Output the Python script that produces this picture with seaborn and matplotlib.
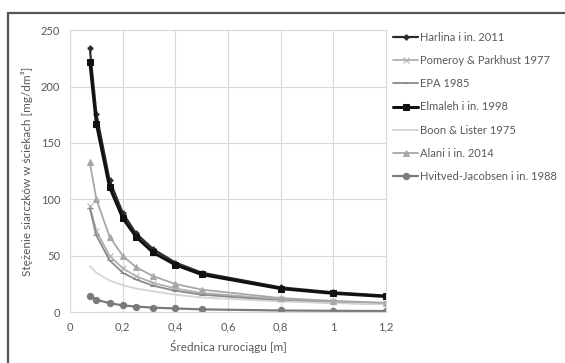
import matplotlib
matplotlib.use("Agg")
import matplotlib.pyplot as plt
import numpy as np
import pandas as pd
import seaborn as sns
from matplotlib.lines import Line2D
from matplotlib.ticker import FuncFormatter

# średnice rurociągu [m]
diameters = [0.075, 0.1, 0.15, 0.2, 0.25, 0.315, 0.4, 0.5, 0.8, 1.0, 1.2]

harlina = [234, 176, 117, 88, 70, 56, 44, 35, 22, 17.6, 14.7]
pomeroy = [94, 72, 50, 39, 32, 26, 21, 17, 11.5, 9.5, 8]
epa = [92, 68, 46, 35, 29, 23.5, 19, 15.5, 10.3, 8.4, 7.1]
elmaleh = [222, 167, 111, 83.5, 67, 53, 42, 33.4, 20.9, 16.7, 13.9]
boon = [41, 35, 28, 24, 21, 18.5, 15.5, 13, 9.5, 8, 7]
alani = [133, 100, 67, 50, 40, 32, 25, 20, 12.5, 10, 8.3]
hvitved = [14.5, 11, 8, 6, 5, 4, 3.3, 2.5, 1.5, 1.2, 1]

series = [
    ("Harlina i in. 2011", harlina),
    ("Pomeroy & Parkhust 1977", pomeroy),
    ("EPA 1985", epa),
    ("Elmaleh i in. 1998", elmaleh),
    ("Boon & Lister 1975", boon),
    ("Alani i in. 2014", alani),
    ("Hvitved-Jacobsen i in. 1988", hvitved),
]

styles = {
    "Harlina i in. 2011": dict(color="#2b2b2b", marker="P", markersize=3.5, linewidth=1.6),
    "Pomeroy & Parkhust 1977": dict(color="#b0b0b0", marker="x", markersize=4, linewidth=1.3),
    "EPA 1985": dict(color="#8a8a8a", marker="_", markersize=5, linewidth=1.3),
    "Elmaleh i in. 1998": dict(color="#111111", marker="s", markersize=5, linewidth=2.2),
    "Boon & Lister 1975": dict(color="#d4d4d4", marker=None, markersize=0, linewidth=1.3),
    "Alani i in. 2014": dict(color="#a8a8a8", marker="^", markersize=4, linewidth=1.3),
    "Hvitved-Jacobsen i in. 1988": dict(color="#7a7a7a", marker="o", markersize=4.5, linewidth=1.6),
}

frames = [pd.DataFrame({"d": diameters, "c": vals, "seria": name}) for name, vals in series]
df = pd.concat(frames, ignore_index=True)

sns.set_theme(style="whitegrid")
plt.rcParams["font.family"] = ["Lato", "DejaVu Sans"]

fig, ax = plt.subplots(figsize=(5.65, 3.63), dpi=100)
fig.subplots_adjust(left=0.124, right=0.683, top=0.917, bottom=0.14)

for name, _ in series:
    st = styles[name]
    sub = df[df["seria"] == name]
    sns.lineplot(
        data=sub, x="d", y="c", ax=ax, color=st["color"], linewidth=st["linewidth"],
        marker=st["marker"], markersize=st["markersize"], markeredgecolor=st["color"],
        markerfacecolor=st["color"], label=name,
    )

ax.set_xlim(0, 1.2)
ax.set_ylim(0, 250)
ax.set_xticks(np.arange(0, 1.21, 0.2))
ax.set_yticks(range(0, 251, 50))
ax.xaxis.set_major_formatter(FuncFormatter(lambda v, p: f"{v:g}".replace(".", ",")))
ax.grid(True, color="#d9d9d9", linewidth=0.8)
for s in ax.spines.values():
    s.set_color("#d9d9d9")
    s.set_linewidth(0.8)
ax.tick_params(labelsize=8, colors="#595959", length=0, pad=7)
ax.set_xlabel("Średnica rurociągu [m]", fontsize=8.5, color="#595959", labelpad=5)
ax.set_ylabel("Stężenie siarczków w ściekach [mg/dm³]", fontsize=8.5, color="#595959", labelpad=6)

ax.legend(loc="upper left", bbox_to_anchor=(1.01, 1.01), frameon=False, fontsize=8,
          labelcolor="#595959", handlelength=2.2, handletextpad=0.2, labelspacing=1.1,
          borderaxespad=0)

# ramka wokół rysunku
fig.add_artist(Line2D([8 / 565, 8 / 565], [0, 1 - 13 / 363], color="#555555", linewidth=1.6))
fig.add_artist(Line2D([8 / 565, 1], [1 - 13 / 363, 1 - 13 / 363], color="#555555", linewidth=1.6))

fig.savefig("out.png", dpi=100)
